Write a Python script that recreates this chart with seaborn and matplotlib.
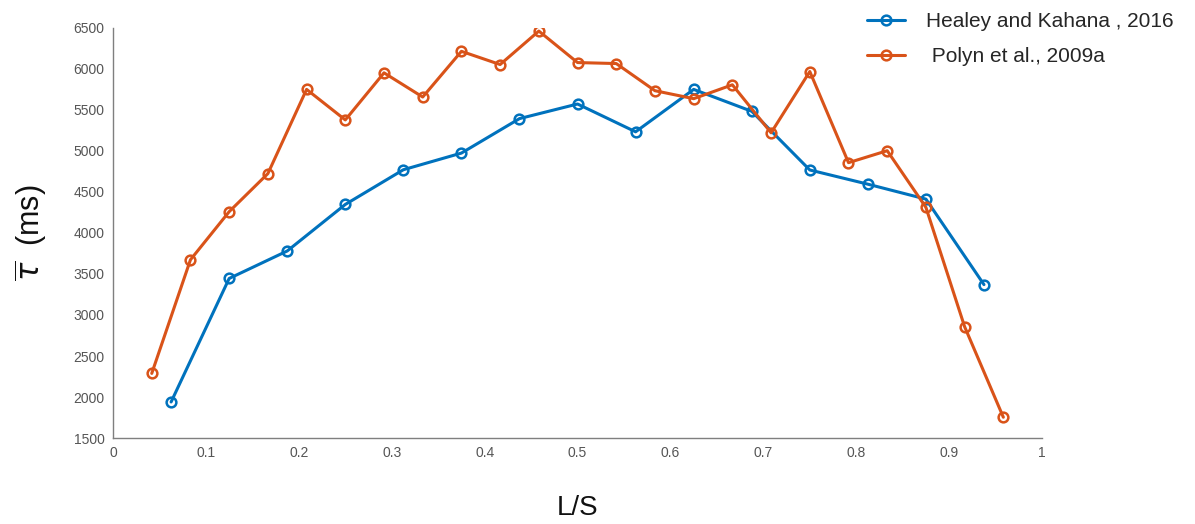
import numpy as np
import pandas as pd
import matplotlib
matplotlib.use("Agg")
import matplotlib.pyplot as plt
import seaborn as sns

# ---- data ----
healey_x = [k / 16 for k in range(1, 16)]
healey_y = [1940, 3445, 3780, 4347, 4770, 4973, 5393, 5571, 5232, 5749, 5482, 4767, 4594, 4412, 3370]
polyn_x = [k / 24 for k in range(1, 24)]
polyn_y = [2288, 3673, 4259, 4723, 5749, 5377, 5951, 5656, 6213, 6052, 6460, 6076,
           6064, 5733, 5636, 5805, 5220, 5967, 4856, 5002, 4311, 2857, 1754]
labels = ["Healey and Kahana , 2016", " Polyn et al., 2009a"]
colors = ["#0072BD", "#D95319"]
x_ticks = [0, 0.1, 0.2, 0.3, 0.4, 0.5, 0.6, 0.7, 0.8, 0.9, 1]
y_ticks = [1500, 2000, 2500, 3000, 3500, 4000, 4500, 5000, 5500, 6000, 6500]

sns.set_style("white")
plt.rcParams['font.family'] = ['Liberation Sans', 'DejaVu Sans']
plt.rcParams['mathtext.fontset'] = 'dejavusans'

fig = plt.figure(figsize=(11.95, 5.24), dpi=100)
ax = fig.add_axes([0.0946, 0.164, 0.7774, 0.783])

for xs, ys, lab, col in zip([healey_x, polyn_x], [healey_y, polyn_y], labels, colors):
    df = pd.DataFrame({"x": xs, "y": ys})
    sns.lineplot(data=df, x="x", y="y", ax=ax, color=col, linewidth=2.2,
                 marker="o", markersize=7, markerfacecolor="none",
                 markeredgecolor=col, markeredgewidth=1.8, label=lab)

ax.set_xlim(0, 1)
ax.set_ylim(1500, 6500)
ax.set_xticks(x_ticks)
ax.set_xticklabels([("%g" % t) for t in x_ticks])
ax.set_yticks(y_ticks)
ax.set_yticklabels([str(t) for t in y_ticks])

for s in ["top", "right"]:
    ax.spines[s].set_visible(False)
for s in ["left", "bottom"]:
    ax.spines[s].set_color("#7f7f7f")
    ax.spines[s].set_linewidth(1.0)
ax.tick_params(axis="both", direction="in", length=6, width=1, color="#555555",
               labelsize=10, labelcolor="#555555", pad=6)

ax.set_xlabel("L/S", fontsize=20, labelpad=25, color="#111111")
ax.set_ylabel(r"$\overline{\tau}$  (ms)", fontsize=22, labelpad=18, color="#111111")

ax.get_legend().remove()
h, l = ax.get_legend_handles_labels()
fig.legend(h, l, loc="upper left", bbox_to_anchor=(0.71, 1.012), frameon=False,
           fontsize=15, handlelength=1.8, labelspacing=0.75, handletextpad=1.0)

fig.savefig("out.png", dpi=100)
